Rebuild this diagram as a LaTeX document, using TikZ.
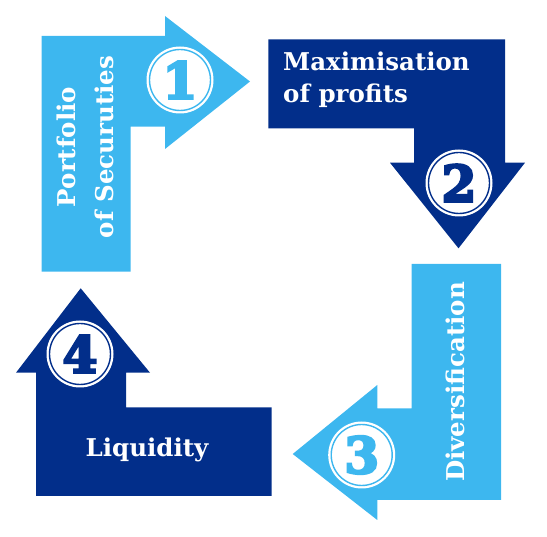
\documentclass[tikz,border=0pt]{standalone}
\usepackage{fontspec}
\setmainfont{DejaVu Serif}
\newfontfamily\numfont[FakeBold=5]{DejaVu Serif Bold}
\definecolor{lblue}{RGB}{61,183,239}
\definecolor{dblue}{RGB}{2,46,138}
\begin{document}
\begin{tikzpicture}[x=1pt,y=-1pt,
  lbl/.style={text=white,font=\bfseries\fontsize{24.5}{38}\selectfont,inner sep=0pt},
  num/.style={circle,fill=white,minimum size=67pt,inner sep=0pt,font=\numfont\fontsize{50}{50}\selectfont},
  ring/.style={line width=1.4pt}]
\useasboundingbox (0,0) rectangle (547,537);
% arrow 1
\fill[lblue] (41.7,36) -- (165,36) -- (165,16) -- (250,81.5) -- (165,149) -- (165,126.7) -- (130.7,126.7) -- (130.7,271.7) -- (41.7,271.7) -- cycle;
% arrow 2
\fill[dblue] (268.3,39.3) -- (505,39.3) -- (505,162.7) -- (525,162.7) -- (458.5,248.3) -- (390,162.7) -- (414,162.7) -- (414,128.3) -- (268.3,128.3) -- cycle;
% arrow 3
\fill[lblue] (411.7,264) -- (501,264) -- (501,500) -- (377.3,500) -- (377.3,520) -- (292.7,454) -- (377.3,385) -- (377.3,408.3) -- (411.7,408.3) -- cycle;
% arrow 4
\fill[dblue] (80.7,288.3) -- (150,372.7) -- (126,372.7) -- (126,407.3) -- (271.7,407.3) -- (271.7,496) -- (36,496) -- (36,372.7) -- (16,372.7) -- cycle;
% circles
\node[num,text=lblue] (n1) at (180,80) {1};
\draw[lblue,ring] (n1.center) circle[radius=30.5pt];
\node[num,text=dblue] (n2) at (459,183) {2};
\draw[dblue,ring] (n2.center) circle[radius=30.5pt];
\node[num,text=lblue] (n3) at (361.7,455) {3};
\draw[lblue,ring] (n3.center) circle[radius=30.5pt];
\node[num,text=dblue] (n4) at (80,354) {4};
\draw[dblue,ring] (n4.center) circle[radius=30.5pt];
% labels
\node[lbl,rotate=90,align=center] (t1) at (85,147) {Portfolio\\of Securuties};
\node[lbl,anchor=base west] (t2a) at (283,70.7) {Maximisation};
\node[lbl,anchor=base west] (t2b) at (283,102.7) {of profits};
\node[lbl,rotate=90] (t3) at (455,382) {Diversification};
\node[lbl] (t4) at (147,450) {Liquidity};
\end{tikzpicture}
\end{document}
